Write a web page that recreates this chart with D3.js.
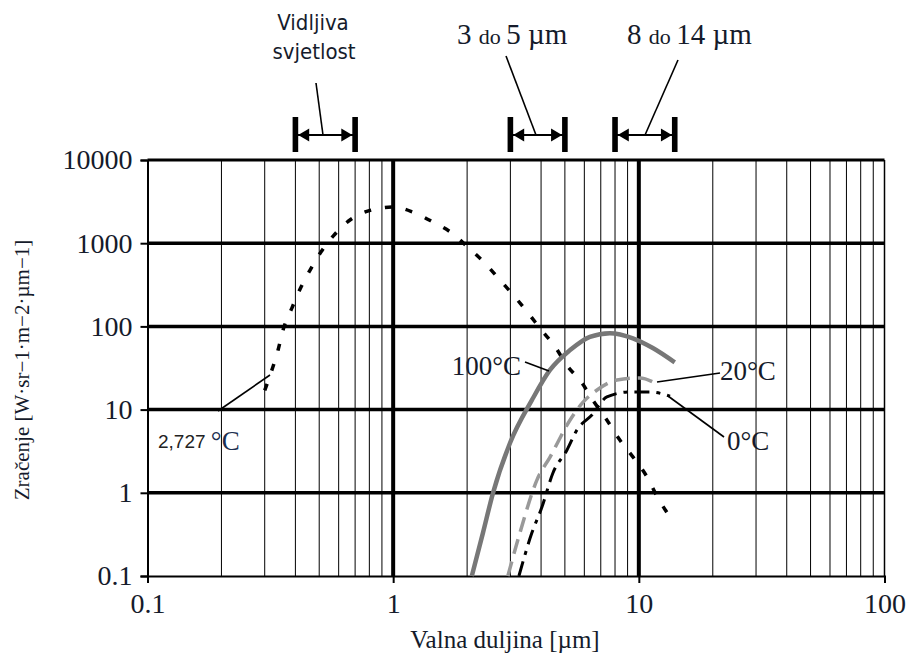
<!DOCTYPE html>
<html>
<head>
<meta charset="utf-8">
<script src="https://cdn.jsdelivr.net/npm/d3@7"></script>
<style>
  body { margin: 0; background: #fff; }
  svg { display: block; }
  .serif { font-family: "Liberation Serif", "Times New Roman", serif; fill: #151b2b; }
  .sans { font-family: "Liberation Sans Narrow", "DejaVu Sans Condensed", "Liberation Sans", Arial, sans-serif; fill: #151b2b; }
</style>
</head>
<body>
<script>
// tick values
const xTicks = [0.1, 1, 10, 100]
const yTicks = [0.1, 1, 10, 100, 1000, 10000]
const yTickLabels = ["0.1", "1", "10", "100", "1000", "10000"]

// 2727 °C curve (dotted)
const lam2727 = [0.30, 0.321, 0.34, 0.356, 0.387, 0.418, 0.459, 0.508, 0.58, 0.667, 0.812, 1.0, 1.2, 1.45, 1.73, 2.03, 2.36, 2.72, 3.13, 3.54, 4.07, 4.56, 5.1, 5.86, 6.5, 7.41, 8.37, 9.46, 10.8, 11.9, 13.4]
const rad2727 = [17, 30, 52, 90, 166, 282, 476, 784, 1290, 1900, 2500, 2720, 2370, 1800, 1330, 875, 578, 361, 226, 145, 86, 57, 34, 21, 13, 7.5, 4.3, 2.7, 1.55, 0.89, 0.51]

// 100 °C curve (solid grey)
const lam100 = [2.09, 2.32, 2.55, 2.99, 3.67, 4.35, 5.25, 6.32, 7.62, 9.46, 11.4, 14.0]
const rad100 = [0.1, 0.33, 1.0, 3.97, 13, 30, 52, 75, 83, 72, 55, 37]

// 20 °C curve (grey dashed)
const lam20 = [2.93, 3.28, 3.85, 4.35, 5.25, 5.93, 6.76, 8.15, 10.1, 11.6]
const rad20 = [0.1, 0.33, 1.43, 2.69, 7.5, 12.3, 17.2, 22.7, 24, 21]

// 0 °C curve (dash-dot)
const lam0 = [3.25, 3.67, 4.03, 4.47, 5.1, 5.6, 6.44, 7.41, 9.2, 11.1, 13.4]
const rad0 = [0.1, 0.33, 0.67, 1.73, 3.27, 5.7, 8.6, 14.2, 16.3, 16.3, 14.5]

// measurement bands [µm]
const bandFrom = [0.4, 3, 8]
const bandTo = [0.7, 5, 14]

const W = 907, H = 657
const mLeft = 147.5, mRight = 884.5, mTop = 160, mBottom = 576
const SERIF = '"Liberation Serif", "Times New Roman", serif'

const svg = d3.select('body').append('svg')
    .attr('width', W).attr('height', H)

const x = d3.scaleLog().domain([0.1, 100]).range([mLeft, mRight])
const y = d3.scaleLog().domain([0.1, 10000]).range([mBottom, mTop])

// minor vertical grid
let minors = []
for (let dec of [0.1, 1, 10]) for (let k = 2; k <= 9; k++) minors.push(dec * k)

svg.append('g').selectAll('line').data(minors).enter().append('line')
    .attr('x1', d => x(d)).attr('x2', d => x(d))
    .attr('y1', mTop).attr('y2', mBottom)
    .attr('stroke', '#000').attr('stroke-width', 1)

// major verticals
svg.append('g').selectAll('line').data([1, 10]).enter().append('line')
    .attr('x1', d => x(d)).attr('x2', d => x(d))
    .attr('y1', mTop).attr('y2', mBottom)
    .attr('stroke', '#000').attr('stroke-width', 4)
svg.append('line').attr('x1', x(100)).attr('x2', x(100))
    .attr('y1', mTop).attr('y2', mBottom).attr('stroke', '#000').attr('stroke-width', 1.5)

// horizontal major lines
svg.append('g').selectAll('line').data([1, 10, 100, 1000]).enter().append('line')
    .attr('x1', mLeft).attr('x2', mRight)
    .attr('y1', d => y(d)).attr('y2', d => y(d))
    .attr('stroke', '#000').attr('stroke-width', 3.5)
svg.append('line').attr('x1', mLeft).attr('x2', mRight)
    .attr('y1', y(10000)).attr('y2', y(10000)).attr('stroke', '#000').attr('stroke-width', 3)

// axes
const yAxis = svg.append('g').attr('transform', `translate(${mLeft},0)`)
    .call(d3.axisLeft(y).tickValues(yTicks).tickSize(7).tickPadding(8)
        .tickFormat((d, i) => yTickLabels[i]))
const xAxis = svg.append('g').attr('transform', `translate(0,${mBottom})`)
    .call(d3.axisBottom(x).tickValues(xTicks).tickSize(7).tickPadding(10)
        .tickFormat(d => d3.format('~g')(d)))

for (let ax of [xAxis, yAxis]) {
    ax.select('.domain').attr('stroke', '#000').attr('stroke-width', 2)
    ax.selectAll('.tick line').attr('stroke', '#000').attr('stroke-width', 2)
    ax.selectAll('.tick text').attr('class', 'serif').attr('font-size', 28)
}

// curves
const line = d3.line().x(d => x(d[0])).y(d => y(d[1])).curve(d3.curveMonotoneX)
const zip = (a, b) => a.map((v, i) => [v, b[i]])

svg.append('path').datum(zip(lam2727, rad2727)).attr('d', line)
    .attr('fill', 'none').attr('stroke', '#000').attr('stroke-width', 3.5)
    .attr('stroke-dasharray', '7,14')
svg.append('path').datum(zip(lam100, rad100)).attr('d', line)
    .attr('fill', 'none').attr('stroke', '#777').attr('stroke-width', 4.5)
svg.append('path').datum(zip(lam20, rad20)).attr('d', line)
    .attr('fill', 'none').attr('stroke', '#999').attr('stroke-width', 3.5)
    .attr('stroke-dasharray', '15,8')
svg.append('path').datum(zip(lam0, rad0)).attr('d', line)
    .attr('fill', 'none').attr('stroke', '#000').attr('stroke-width', 3)
    .attr('stroke-dasharray', '15,7,4,7')

// curve labels + leaders
function leader(x1, y1, x2, y2) {
    svg.append('line').attr('x1', x1).attr('y1', y1).attr('x2', x2).attr('y2', y2)
        .attr('stroke', '#000').attr('stroke-width', 1.6)
}
leader(525, 362, 549, 371)
svg.append('text').attr('class', 'serif').attr('font-size', 27)
    .attr('x', 521).attr('y', 375).attr('text-anchor', 'end').text('100°C')
leader(657, 382, 720, 373)
svg.append('text').attr('class', 'serif').attr('font-size', 27)
    .attr('x', 720).attr('y', 380).text('20°C')
leader(668, 396, 724, 437)
svg.append('text').attr('class', 'serif').attr('font-size', 27)
    .attr('x', 727).attr('y', 450).text('0°C')

leader(218, 411, 270, 375)
const t2727 = svg.append('text').attr('x', 158).attr('y', 448)
t2727.append('tspan').attr('font-size', 19)
    .style('font-family', '"Liberation Sans", Arial, sans-serif').style('fill', '#222').text('2,727 ')
t2727.append('tspan').attr('class', 'serif').attr('font-size', 27).attr('dy', 2)
    .style('fill', '#1c3050').text('°C')

// bands on top
const bandY = 135
const bands = svg.append('g').selectAll('g')
    .data(bandFrom.map((d, i) => [d, bandTo[i]])).enter().append('g')
bands.append('line')
    .attr('x1', d => x(d[0])).attr('x2', d => x(d[1]))
    .attr('y1', bandY).attr('y2', bandY)
    .attr('stroke', '#000').attr('stroke-width', 1.8)
for (let side of [0, 1]) {
    bands.append('rect')
        .attr('x', d => x(d[side]) - 2.8).attr('y', bandY - 18)
        .attr('width', 5.6).attr('height', 35).attr('fill', '#000')
    bands.append('path')
        .attr('d', d => {
            const xe = x(d[side]) + (side ? -2.8 : 2.8)
            const xb = xe + (side ? -11 : 11)
            return `M${xe},${bandY}L${xb},${bandY - 6.5}L${xb},${bandY + 6.5}Z`
        })
        .attr('fill', '#000')
}

// band labels
leader(316, 83, 323, 135)
svg.append('text').attr('class', 'sans').attr('font-size', 22)
    .attr('x', 313).attr('y', 30).attr('text-anchor', 'middle').text('Vidljiva')
svg.append('text').attr('class', 'sans').attr('font-size', 22)
    .attr('x', 314).attr('y', 59).attr('text-anchor', 'middle').text('svjetlost')

leader(506, 56, 536, 135)
const t35 = svg.append('text').attr('class', 'serif').attr('x', 457).attr('y', 44)
t35.append('tspan').attr('font-size', 29).text('3 ')
t35.append('tspan').attr('font-size', 22).text('do ')
t35.append('tspan').attr('font-size', 29).text('5 µm')

leader(678, 60, 645, 135)
const t814 = svg.append('text').attr('class', 'serif').attr('x', 627).attr('y', 44)
t814.append('tspan').attr('font-size', 29).text('8 ')
t814.append('tspan').attr('font-size', 22).text('do ')
t814.append('tspan').attr('font-size', 29).text('14 µm')

// axis titles
svg.append('text').style('font-family', SERIF).style('fill', '#151b2b').attr('font-size', 25)
    .attr('x', 505).attr('y', 648).attr('text-anchor', 'middle').text('Valna duljina [µm]')
svg.append('text').style('font-family', SERIF).style('fill', '#151b2b').attr('font-size', 21)
    .attr('transform', 'translate(29,370) rotate(-90)').attr('text-anchor', 'middle')
    .text('Zračenje [W·sr−1·m−2·µm−1]')
</script>
</body>
</html>
